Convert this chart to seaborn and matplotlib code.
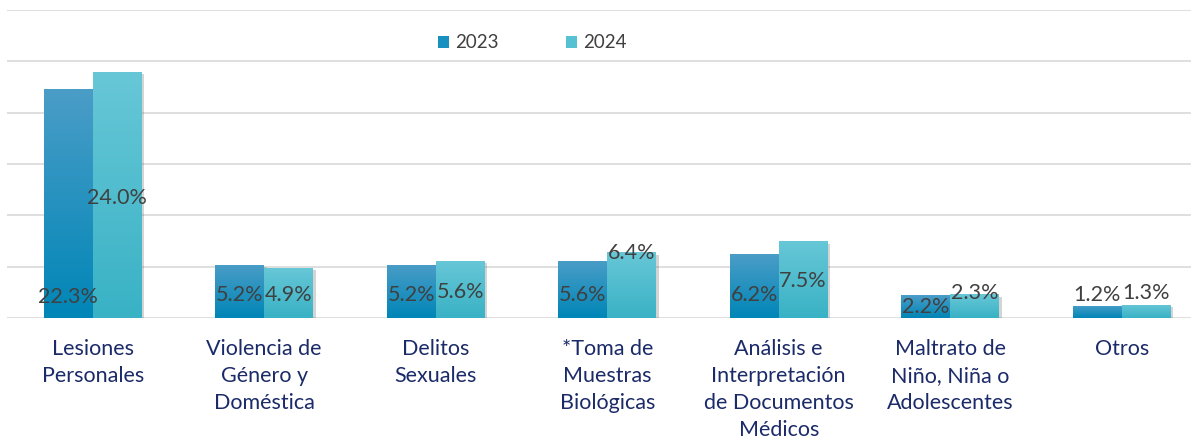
import numpy as np
import pandas as pd
import matplotlib
matplotlib.use("Agg")
import matplotlib.pyplot as plt
import matplotlib.patheffects as pe
from matplotlib.colors import LinearSegmentedColormap
from matplotlib.patches import Patch
import seaborn as sns

categories = [
    "Lesiones\nPersonales",
    "Violencia de\nGénero y\nDoméstica",
    "Delitos\nSexuales",
    "*Toma de\nMuestras\nBiológicas",
    "Análisis e\nInterpretación\nde Documentos\nMédicos",
    "Maltrato de\nNiño, Niña o\nAdolescentes",
    "Otros",
]
years = ["2023", "2024"]
values_2023 = [22.3, 5.2, 5.2, 5.6, 6.2, 2.2, 1.2]
values_2024 = [24.0, 4.9, 5.6, 6.4, 7.5, 2.3, 1.3]
# where the original chart happened to put its value labels (in % units)
label_y_2023 = [2.05, 2.25, 2.25, 2.25, 2.25, 1.05, 2.25]
label_y_2024 = [11.7, 2.25, 2.5, 6.35, 3.6, 2.45, 2.45]

df = pd.DataFrame({
    "categoria": categories * 2,
    "year": [years[0]] * len(categories) + [years[1]] * len(categories),
    "valor": values_2023 + values_2024,
})

FONT = ["Lato", "DejaVu Sans"]
NAVY = "#1B2A68"
LABEL_GREY = "#404040"
GRID = "#D9D9D9"
MID = {"2023": "#1890C0", "2024": "#55C1D2"}
GRAD = {"2023": ("#0086B7", "#4A9DC7"), "2024": ("#39B2C5", "#67C7D7")}

sns.set_theme(style="white")
plt.rcParams["font.family"] = FONT

fig = plt.figure(figsize=(11.91, 4.41), dpi=100)
ax = fig.add_axes([7 / 1191, 123 / 441, 1 - 7 / 1191, 308 / 441])

sns.barplot(data=df, x="categoria", y="valor", hue="year", palette=MID,
            width=0.57, gap=0, legend=False, ax=ax, saturation=1,
            edgecolor="none", linewidth=0)

# vertical gradient + soft shadow on every bar
for cont, yr in zip(ax.containers, years):
    cmap = LinearSegmentedColormap.from_list(yr, GRAD[yr])
    for bar in cont:
        bar.set_path_effects([pe.SimplePatchShadow(offset=(2, -2), alpha=0.25,
                                                   shadow_rgbFace="#555555"),
                              pe.Normal()])
        x0, y0 = bar.get_x(), bar.get_y()
        w, h = bar.get_width(), bar.get_height()
        grad = np.linspace(0, 1, 100).reshape(-1, 1)
        im = ax.imshow(grad, cmap=cmap, origin="lower", aspect="auto",
                       extent=[x0, x0 + w, y0, y0 + h], zorder=bar.get_zorder() + 0.1)
        im.set_clip_path(bar)

label_ys = [label_y_2023, label_y_2024]
vals = [values_2023, values_2024]
for cont, ly, vv in zip(ax.containers, label_ys, vals):
    for bar, yy, v in zip(cont, ly, vv):
        ax.text(bar.get_x() + bar.get_width() / 2, yy, f"{v:.1f}%",
                ha="center", va="center", fontsize=15.5, color=LABEL_GREY,
                zorder=5)

ax.set_xlim(-0.5, 6.404)
ax.set_ylim(0, 30)
ax.set_yticks(np.arange(0, 31, 5))
ax.set_yticklabels([])
ax.yaxis.grid(True, color=GRID, linewidth=1.2)
ax.set_axisbelow(True)
for s in ax.spines.values():
    s.set_visible(False)
ax.tick_params(axis="both", length=0)
ax.tick_params(axis="x", pad=15)
ax.set_xticks(range(len(categories)))
ax.set_xticklabels(categories, fontsize=15.5, color=NAVY,
                   linespacing=1.45, va="top")
ax.set_xlabel("")
ax.set_ylabel("")

handles = [Patch(facecolor=MID[y], edgecolor="none", label=y) for y in years]
fig.legend(handles=handles, loc="center", ncol=2, frameon=False,
           bbox_to_anchor=(532 / 1191, 1 - 43 / 441), fontsize=13.5,
           handlelength=0.6, handleheight=0.6, handletextpad=0.3,
           columnspacing=3.6, labelcolor=LABEL_GREY)

fig.savefig("out.png", dpi=100)
